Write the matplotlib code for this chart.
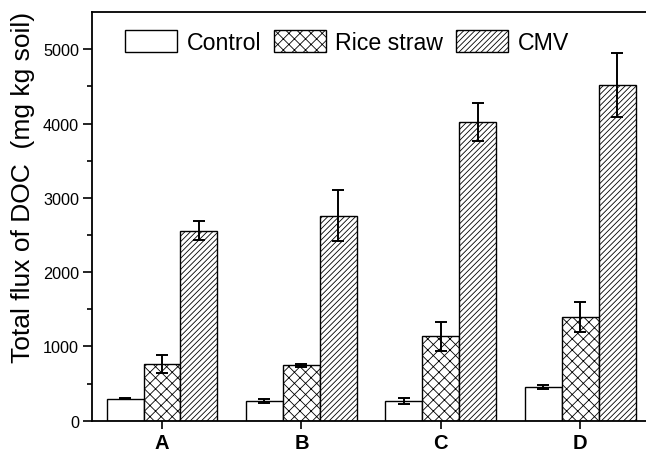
import numpy as np
import matplotlib
matplotlib.use("Agg")
import matplotlib.pyplot as plt

plt.rcParams['font.family'] = ['Liberation Sans', 'DejaVu Sans']
plt.rcParams['hatch.linewidth'] = 0.6
plt.rcParams['hatch.color'] = '#333333'

# data
groups = ['A', 'B', 'C', 'D']
series = ['Control', 'Rice straw', 'CMV']
control = [295, 262, 265, 452]
control_err = [8, 28, 35, 25]
rice = [762, 749, 1135, 1400]
rice_err = [125, 20, 195, 200]
cmv = [2560, 2760, 4020, 4520]
cmv_err = [130, 345, 255, 430]

hatches = ['', 'xxx', '//////']

fig = plt.figure(figsize=(6.46, 4.52), dpi=100)
ax = fig.add_axes([0.1429, 0.067, 0.863, 0.904])

x = np.arange(len(groups))
w = 0.265
values = [control, rice, cmv]
errs = [control_err, rice_err, cmv_err]
handles = []
for i in range(3):
    b = ax.bar(x + (i - 1) * w, values[i], w, color='white', edgecolor='black',
               linewidth=1.0, hatch=hatches[i], label=series[i])
    ax.errorbar(x + (i - 1) * w, values[i], yerr=errs[i], fmt='none',
                ecolor='black', elinewidth=1.4, capsize=4, capthick=1.4)
    handles.append(b)

ax.set_xlim(-0.5, 3.5)
ax.set_ylim(0, 5500)
ax.set_yticks(np.arange(0, 5001, 1000))
ax.set_yticks(np.arange(500, 5001, 1000), minor=True)
ax.set_xticks(x)
ax.set_xticklabels(groups, fontsize=14.5, fontweight='bold')
ax.tick_params(axis='y', which='major', direction='out', length=6.5, width=1.2,
               labelsize=11.7, pad=3)
ax.tick_params(axis='y', which='minor', direction='out', length=3.5, width=1.2)
ax.tick_params(axis='x', direction='out', length=5.8, width=1.2, pad=3)
for s in ax.spines.values():
    s.set_linewidth(1.3)

fig.text(23 / 646, 1 - 187 / 452, 'Total flux of DOC  (mg kg soil)',
         rotation=90, ha='center', va='center', fontsize=19)

fig.legend(handles=handles, loc='center left', bbox_to_anchor=(125 / 646, 1 - 43 / 452),
           ncol=3, frameon=False, fontsize=16.7, borderpad=0, borderaxespad=0,
           handlelength=2.25, handleheight=1.1, handletextpad=0.4, columnspacing=0.55)

fig.savefig('out.png', dpi=100)
